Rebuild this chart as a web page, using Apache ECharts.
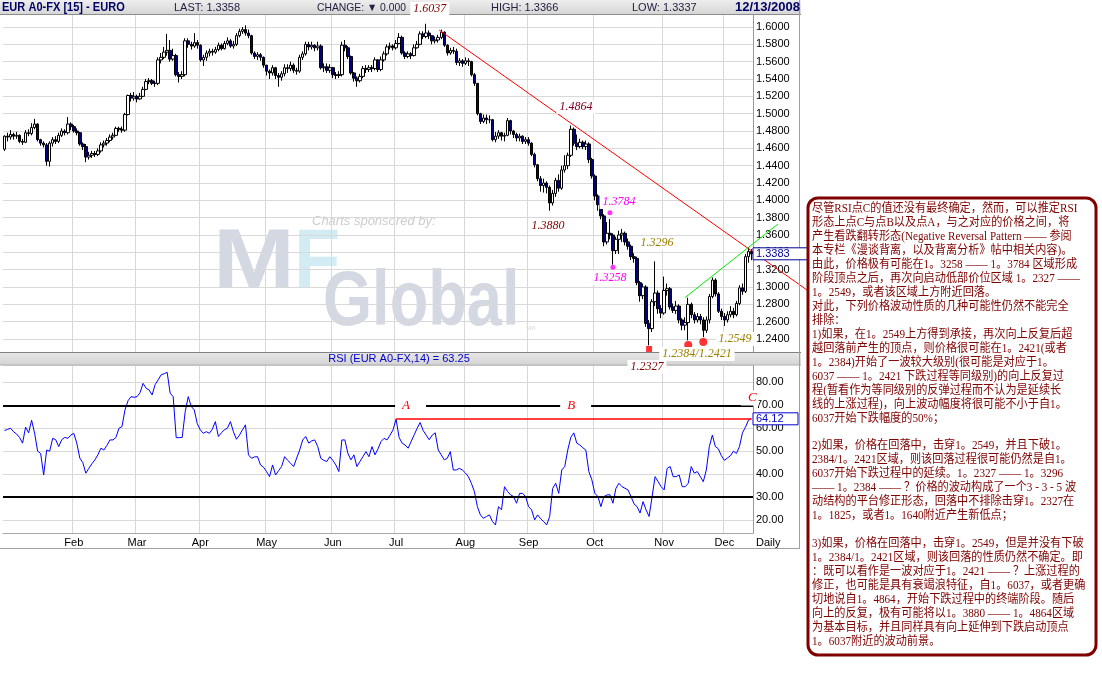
<!DOCTYPE html>
<html><head><meta charset="utf-8">
<script src="https://cdn.jsdelivr.net/npm/echarts@6.0.0/dist/echarts.min.js"></script>
<style>html,body{margin:0;padding:0;background:#fff}#c{width:1102px;height:685px}</style>
</head><body><div id="c"></div>
<script>
// ---------------- DATA ----------------
const monthNames = ['Jan','Feb','Mar','Apr','May','Jun','Jul','Aug','Sep','Oct','Nov','Dec'];
const priceTicks = {min:1.22, max:1.62, step:0.02};
const opens = [
1.459,1.474,1.473,1.476,1.474,1.475,1.468,1.467,1.478,1.477,
1.484,1.488,1.470,1.466,1.464,1.445,1.466,1.470,1.468,1.475,
1.480,1.478,1.488,1.485,1.480,1.478,1.465,1.462,1.450,1.452,
1.454,1.453,1.457,1.464,1.466,1.469,1.473,1.475,1.483,1.482,
1.481,1.499,1.521,1.518,1.520,1.517,1.520,1.528,1.537,1.538,
1.535,1.535,1.562,1.565,1.571,1.573,1.563,1.567,1.545,1.543,
1.545,1.584,1.580,1.578,1.582,1.579,1.562,1.565,1.570,1.572,
1.571,1.574,1.579,1.575,1.581,1.584,1.578,1.580,1.590,1.595,
1.597,1.593,1.590,1.570,1.566,1.568,1.565,1.556,1.549,1.547,
1.553,1.544,1.542,1.546,1.553,1.552,1.556,1.550,1.549,1.565,
1.569,1.580,1.577,1.579,1.576,1.578,1.553,1.554,1.550,1.553,
1.545,1.544,1.545,1.579,1.576,1.566,1.547,1.541,1.538,1.543,
1.552,1.551,1.553,1.552,1.562,1.551,1.562,1.569,1.577,1.578,
1.576,1.581,1.588,1.570,1.566,1.569,1.567,1.576,1.580,1.592,
1.589,1.593,1.590,1.584,1.585,1.588,1.594,1.579,1.570,1.573,
1.572,1.559,1.561,1.558,1.561,1.560,1.545,1.535,1.500,1.491,
1.495,1.493,1.493,1.470,1.474,1.478,1.474,1.475,1.492,1.480,
1.476,1.472,1.474,1.468,1.470,1.466,1.453,1.441,1.425,1.417,
1.420,1.415,1.397,1.408,1.423,1.414,1.435,1.440,1.452,1.482,
1.466,1.462,1.467,1.462,1.465,1.447,1.428,1.405,1.395,1.382,
1.352,1.362,1.360,1.342,1.355,1.360,1.362,1.352,1.347,1.335,
1.333,1.305,1.290,1.300,1.258,1.252,1.283,1.293,1.275,1.270,
1.296,1.298,1.277,1.273,1.278,1.262,1.256,1.259,1.280,1.268,
1.262,1.266,1.262,1.250,1.262,1.289,1.308,1.292,1.272,1.266,
1.262,1.268,1.272,1.268,1.281,1.299,1.295,1.335,1.341];
const closes = [
1.474,1.473,1.476,1.474,1.475,1.468,1.467,1.478,1.477,1.484,
1.488,1.470,1.466,1.464,1.445,1.466,1.470,1.468,1.475,1.480,
1.478,1.488,1.485,1.480,1.478,1.465,1.462,1.450,1.452,1.454,
1.453,1.457,1.464,1.466,1.469,1.473,1.475,1.483,1.482,1.481,
1.499,1.521,1.518,1.520,1.517,1.520,1.528,1.537,1.538,1.535,
1.535,1.562,1.565,1.571,1.573,1.563,1.567,1.545,1.543,1.545,
1.584,1.580,1.578,1.582,1.579,1.562,1.565,1.570,1.572,1.571,
1.574,1.579,1.575,1.581,1.584,1.578,1.580,1.590,1.595,1.597,
1.593,1.590,1.570,1.566,1.568,1.565,1.556,1.549,1.547,1.553,
1.544,1.542,1.546,1.553,1.552,1.556,1.550,1.549,1.565,1.569,
1.580,1.577,1.579,1.576,1.578,1.553,1.554,1.550,1.553,1.545,
1.544,1.545,1.579,1.576,1.566,1.547,1.541,1.538,1.543,1.552,
1.551,1.553,1.552,1.562,1.551,1.562,1.569,1.577,1.578,1.576,
1.581,1.588,1.570,1.566,1.569,1.567,1.576,1.580,1.592,1.589,
1.593,1.590,1.584,1.585,1.588,1.594,1.579,1.570,1.573,1.572,
1.559,1.561,1.558,1.561,1.560,1.545,1.535,1.500,1.491,1.495,
1.493,1.493,1.470,1.474,1.478,1.474,1.475,1.492,1.480,1.476,
1.472,1.474,1.468,1.470,1.466,1.453,1.441,1.425,1.417,1.420,
1.415,1.397,1.408,1.423,1.414,1.435,1.440,1.452,1.482,1.466,
1.462,1.467,1.462,1.465,1.447,1.428,1.405,1.395,1.382,1.352,
1.362,1.360,1.342,1.355,1.360,1.362,1.352,1.347,1.335,1.333,
1.305,1.290,1.300,1.258,1.252,1.283,1.293,1.275,1.270,1.296,
1.298,1.277,1.273,1.278,1.262,1.256,1.259,1.280,1.268,1.262,
1.266,1.262,1.250,1.262,1.289,1.308,1.292,1.272,1.266,1.262,
1.268,1.272,1.268,1.281,1.299,1.295,1.335,1.341,1.3383];
const highs = [
1.475,1.478,1.481,1.478,1.479,1.476,1.471,1.481,1.482,1.489,
1.494,1.489,1.471,1.468,1.466,1.468,1.473,1.474,1.478,1.483,
1.482,1.496,1.490,1.487,1.483,1.479,1.467,1.465,1.456,1.457,
1.457,1.460,1.467,1.469,1.472,1.476,1.478,1.485,1.485,1.485,
1.501,1.522,1.524,1.525,1.522,1.524,1.531,1.540,1.541,1.540,
1.538,1.565,1.570,1.577,1.592,1.585,1.575,1.569,1.548,1.549,
1.587,1.587,1.583,1.593,1.585,1.580,1.568,1.573,1.575,1.575,
1.577,1.582,1.581,1.584,1.588,1.586,1.584,1.593,1.598,1.600,
1.602,1.597,1.591,1.572,1.571,1.570,1.566,1.556,1.551,1.556,
1.554,1.547,1.549,1.557,1.557,1.560,1.558,1.553,1.568,1.572,
1.583,1.583,1.583,1.580,1.583,1.580,1.558,1.558,1.557,1.554,
1.548,1.549,1.583,1.585,1.578,1.567,1.548,1.543,1.546,1.555,
1.556,1.556,1.556,1.565,1.563,1.566,1.572,1.580,1.582,1.580,
1.585,1.593,1.590,1.572,1.572,1.571,1.580,1.584,1.595,1.595,
1.6037,1.596,1.590,1.589,1.591,1.597,1.595,1.580,1.576,1.577,
1.575,1.564,1.563,1.565,1.564,1.561,1.547,1.535,1.501,1.499,
1.499,1.498,1.494,1.479,1.481,1.479,1.478,1.495,1.493,1.481,
1.478,1.477,1.475,1.473,1.473,1.467,1.455,1.442,1.428,1.425,
1.422,1.417,1.412,1.426,1.430,1.440,1.452,1.455,1.4864,1.484,
1.476,1.471,1.469,1.469,1.467,1.449,1.430,1.407,1.398,1.384,
1.375,1.3784,1.362,1.358,1.365,1.367,1.364,1.356,1.349,1.339,
1.335,1.307,1.304,1.302,1.262,1.286,1.3296,1.296,1.279,1.312,
1.304,1.300,1.281,1.284,1.280,1.264,1.265,1.2877,1.282,1.271,
1.270,1.269,1.265,1.266,1.292,1.311,1.310,1.294,1.275,1.270,
1.272,1.278,1.276,1.284,1.302,1.304,1.338,1.346,1.3437];
const lows = [
1.457,1.468,1.470,1.470,1.471,1.466,1.464,1.466,1.474,1.475,
1.482,1.468,1.463,1.461,1.440,1.439,1.462,1.465,1.466,1.473,
1.475,1.476,1.481,1.478,1.475,1.463,1.458,1.444,1.447,1.449,
1.450,1.451,1.455,1.461,1.463,1.467,1.470,1.474,1.479,1.478,
1.479,1.498,1.514,1.515,1.513,1.516,1.519,1.527,1.534,1.533,
1.531,1.533,1.558,1.563,1.567,1.560,1.561,1.543,1.536,1.540,
1.543,1.576,1.574,1.576,1.575,1.560,1.555,1.561,1.566,1.567,
1.569,1.572,1.573,1.574,1.579,1.576,1.575,1.578,1.588,1.592,
1.590,1.587,1.568,1.563,1.562,1.561,1.553,1.544,1.540,1.544,
1.540,1.531,1.538,1.543,1.547,1.549,1.547,1.545,1.547,1.562,
1.567,1.573,1.574,1.572,1.573,1.551,1.548,1.547,1.547,1.541,
1.540,1.541,1.543,1.572,1.563,1.545,1.537,1.531,1.536,1.541,
1.547,1.548,1.548,1.550,1.548,1.549,1.560,1.567,1.574,1.573,
1.574,1.580,1.568,1.563,1.564,1.563,1.566,1.575,1.579,1.586,
1.587,1.586,1.580,1.581,1.582,1.586,1.577,1.567,1.568,1.569,
1.556,1.555,1.554,1.556,1.555,1.543,1.532,1.498,1.488,1.489,
1.488,1.489,1.468,1.467,1.471,1.469,1.468,1.474,1.476,1.472,
1.468,1.468,1.465,1.465,1.463,1.451,1.438,1.422,1.410,1.409,
1.408,1.388,1.394,1.404,1.410,1.412,1.432,1.436,1.450,1.463,
1.458,1.460,1.459,1.458,1.443,1.425,1.400,1.388,1.378,1.347,
1.349,1.355,1.3258,1.338,1.338,1.352,1.348,1.343,1.331,1.328,
1.302,1.283,1.286,1.254,1.2327,1.248,1.278,1.269,1.264,1.268,
1.290,1.274,1.270,1.269,1.258,1.250,1.250,1.2384,1.264,1.258,
1.259,1.257,1.2421,1.247,1.258,1.287,1.289,1.270,1.262,1.2549,
1.259,1.265,1.264,1.266,1.279,1.291,1.293,1.328,1.331];
const rsi = [
59,59.5,60,58.5,57.5,56,53.5,60.5,58,63.5,
57.8,50,49,39.6,50.5,50,55.6,55,52,55,
56,55.6,57,57.8,53.5,47,45,40.4,42.5,44.5,
46.2,48.4,51.3,50.5,52.5,54.9,54.9,56,60,60.7,
68,72,73.8,73.5,73.8,75.5,79.6,77.5,76.7,74.5,
79,81.1,83.3,83.8,84.4,75.3,73.8,55.9,55.9,56,
67.3,73.8,69.5,68,62,59.3,57.8,58.5,57.8,59.6,
62.9,56.4,58,59.3,60,62.9,58.5,55.2,57,59.3,
61.5,48.4,46.9,47.5,47.6,44,43,41.1,38.9,44,
39.6,41.5,43.3,47.6,46,44.7,43.3,47,50.5,54.9,
56.4,53.5,54.5,54.9,52,46.9,46,45.5,47.6,46,
44,41.1,54.9,54.9,49.1,46.2,48.4,43.3,45.5,47.6,
49.8,47.6,52,48.4,51,54.2,55.6,54.9,57,59.3,
64,56,53.5,52.7,51.3,54.2,57.1,60,62.5,59,
57,55,57,58,50.5,48.4,46.2,46.9,49.8,41.8,
41.8,42.5,41.8,40.5,38.9,36,32.4,25.8,22.2,20.7,
21.5,22.2,19.3,17.8,25.8,24.4,34.5,32.4,31,30.2,
27.3,31.6,31.6,30.2,25.8,24.4,20,22.2,20.5,19.3,
17.8,21.5,33.8,36,31.6,41.8,43.3,50.5,56,58,
53.5,52.7,51.5,50.5,41.1,37.5,31.6,30.2,25.8,30.2,
30.9,31,27.3,33.8,36,34.5,33.8,33.1,30.2,27,
25.8,23,28,24.4,21.5,30.2,38.9,36.7,34.5,33.1,
42.5,43.3,38.9,38.9,39.6,34.5,34.5,36,43.3,40.4,
41.1,38.9,36.7,41.8,52,57,52,51,48,46,
47,48,50,49,52,58,60.5,63.5,64.12];
const rsiLevels = [30, 70];
const rsiRefLine = {from:130, to:248, value:64.12};
const magentaDots = [[201, 1.3858], [202, 1.3227]];
const redSquares = [[214, 1.2285]];
const redCircles = [[227, 1.2331], [232, 1.2366]];
const priceLabels = [
  {t:'1.6037', i:141.2, v:1.6208, c:'#800000'},
  {t:'1.4864', i:189.7, v:1.5077, c:'#800020'},
  {t:'1.3880', i:180.4, v:1.3704, c:'#800000'},
  {t:'1.3784', i:204.0, v:1.3981, c:'#ff00ff'},
  {t:'1.3258', i:201.0, v:1.3104, c:'#ff00ff'},
  {t:'1.3296', i:216.6, v:1.3508, c:'#9c8000'},
  {t:'1.2327', i:213.3, v:1.2077, c:'#800000'},
  {t:'1.2384/1.2421', i:229.9, v:1.2227, c:'#9c8000'},
  {t:'1.2549', i:242.5, v:1.2400, c:'#9c8000'}
];
const rsiLabels = [{t:'A', i:132.0, v:70, padR:16}, {t:'B', i:186.8, v:70, padR:16}, {t:'C', i:246.8, v:73.2, padR:2}];
const redTrend = [[144.3, 1.5965], [266.4, 1.2966]];
const greenTrend = [[225.9, 1.2877], [256.8, 1.3727]];
const lastPrice = 1.3383, lastRsi = 64.12;
const header = {title:'EUR A0-FX [15] - EURO', last:'LAST: 1.3358', change:'CHANGE: \u25BC 0.000', high:'HIGH: 1.3366', low:'LOW: 1.3337', date:'12/13/2008'};
const rsiTitle = 'RSI (EUR A0-FX,14) = 63.25';
const noteLines = [
'尽管RSI点C的值还没有最终确定，然而，可以推定RSI',
'形态上点C与点B以及点A，与之对应的价格之间，将',
'产生看跌翻转形态(Negative Reversal Pattern —— 参阅',
'本专栏《漫谈背离，以及背离分析》帖中相关内容)。',
'由此，价格极有可能在1。3258 —— 1。3784 区域形成',
'阶段顶点之后，再次向启动低部价位区域 1。2327 ——',
'1。2549，或者该区域上方附近回落。',
'对此，下列价格波动性质的几种可能性仍然不能完全',
'排除：',
'1)如果，在1。2549上方得到承接，再次向上反复后超',
'越回落前产生的顶点，则价格很可能在1。2421(或者',
'1。2384)开始了一波较大级别(很可能是对应于1。',
'6037 —— 1。2421 下跌过程等同级别)的向上反复过',
'程(暂看作为等同级别的反弹过程而不认为是延续长',
'线的上涨过程)，向上波动幅度将很可能不小于自1。',
'6037开始下跌幅度的50%；',
'',
'2)如果，价格在回落中，击穿1。2549，并且下破1。',
'2384/1。2421区域，则该回落过程很可能仍然是自1。',
'6037开始下跌过程中的延续。1。2327 —— 1。3296',
'—— 1。2384 —— ？价格的波动构成了一个3 - 3 - 5 波',
'动结构的平台修正形态，回落中不排除击穿1。2327在',
'1。1825，或者1。1640附近产生新低点；',
'',
'3)如果，价格在回落中，击穿1。2549，但是并没有下破',
'1。2384/1。2421区域，则该回落的性质仍然不确定。即',
'：既可以看作是一波对应于1。2421 —— ？上涨过程的',
'修正，也可能是具有衰竭浪特征，自1。6037，或者更确',
'切地说自1。4864，开始下跌过程中的终端阶段。随后',
'向上的反复，极有可能将以1。3880 —— 1。4864区域',
'为基本目标，并且同样具有向上延伸到下跌启动顶点',
'1。6037附近的波动前景。'
];

// ---------------- categories (trading days) ----------------
const dates = [], monthLabel = [];
(function(){
  let t = Date.UTC(2008,0,1); const end = Date.UTC(2008,11,12); let prev = -1;
  while (t <= end) {
    const d = new Date(t), wd = d.getUTCDay(), m = d.getUTCMonth();
    if (wd !== 0 && wd !== 6) {
      dates.push((m+1) + '/' + d.getUTCDate() + '/2008');
      monthLabel.push(prev !== -1 && m !== prev ? monthNames[m] : '');
      prev = m;
    }
    t += 86400000;
  }
})();

const SANS = '"Liberation Sans", Arial, sans-serif';
const chart = echarts.init(document.getElementById('c'));
const gridColor = '#d9d9d9';
const isMonth = (i) => !!monthLabel[i];

chart.setOption({
  animation: false,
  backgroundColor: '#fff',
  grid: [
    {left: 3, right: 349, top: 9.667, height: 346.667},
    {left: 3, right: 349, top: 365, height: 168}
  ],
  xAxis: [
    {type:'category', gridIndex:0, data:dates, boundaryGap:true,
     axisLine:{show:false}, axisTick:{show:false}, axisLabel:{show:false},
     splitLine:{show:true, interval:isMonth, lineStyle:{color:gridColor}}},
    {type:'category', gridIndex:1, data:dates, boundaryGap:true,
     axisLine:{show:true, lineStyle:{color:'#a8a8a8'}}, axisTick:{show:false},
     axisLabel:{interval:isMonth, formatter:(v,i)=>monthLabel[i], color:'#000', fontSize:11, fontFamily:SANS, margin:4},
     splitLine:{show:true, interval:isMonth, lineStyle:{color:gridColor}}}
  ],
  yAxis: [
    {type:'value', gridIndex:0, position:'right', min:priceTicks.min, max:priceTicks.max, interval:priceTicks.step,
     axisLine:{show:true, lineStyle:{color:'#999'}}, axisTick:{show:false},
     axisLabel:{formatter:(v)=> (v < 1.235 || v > 1.605) ? '' : v.toFixed(4), color:'#000', fontSize:11, fontFamily:SANS, margin:3},
     splitLine:{show:true, lineStyle:{color:gridColor}}},
    {type:'value', gridIndex:1, position:'right', min:14.3, max:87.6, splitNumber:7,
     axisLine:{show:true, lineStyle:{color:'#999'}}, axisTick:{show:false},
     axisLabel:{formatter:(v)=> Math.abs(v/10 - Math.round(v/10)) < 1e-6 ? v.toFixed(2) : '', color:'#000', fontSize:11, fontFamily:SANS, margin:3, showMinLabel:false, showMaxLabel:false},
     splitLine:{show:true, lineStyle:{color:gridColor}}}
  ],
  series: [
    {type:'candlestick', xAxisIndex:0, yAxisIndex:0, barWidth:3,
     data: opens.map((o,i)=>[o, closes[i], lows[i], highs[i]]),
     itemStyle:{color:'#ffffff', color0:'#000080', borderColor:'#000000', borderColor0:'#000000', borderWidth:1}},
    {type:'line', xAxisIndex:1, yAxisIndex:1, data:rsi, symbol:'none', z:4,
     lineStyle:{color:'#0000ff', width:1},
     markLine:{silent:true, symbol:['none','none'], label:{show:false},
       data:[
         ...rsiLevels.map(v=>({yAxis:v, lineStyle:{color:'#000', width:2, type:'solid'}})),
         [{coord:[dates[rsiRefLine.from], rsiRefLine.value], lineStyle:{color:'#ff0000', width:1.5, type:'solid'}},
          {coord:[dates[rsiRefLine.to], rsiRefLine.value]}]
       ]}},
    {type:'scatter', xAxisIndex:0, yAxisIndex:0, symbol:'circle', symbolSize:5, clip:false, z:6,
     itemStyle:{color:'#ff00ff'}, data: magentaDots.map(p=>[dates[p[0]], p[1]])},
    {type:'scatter', xAxisIndex:0, yAxisIndex:0, symbol:'rect', symbolSize:6, clip:false, z:6,
     itemStyle:{color:'#ff0000'}, data: redSquares.map(p=>[dates[p[0]], p[1]])},
    {type:'scatter', xAxisIndex:0, yAxisIndex:0, symbol:'circle', symbolSize:8, clip:false, z:6,
     itemStyle:{color:'#ff0000'}, data: redCircles.map(p=>[dates[p[0]], p[1]])}
  ]
});

// ---------------- overlays anchored to data ----------------
const X0 = chart.convertToPixel({xAxisIndex:0}, dates[0]);
const X1 = chart.convertToPixel({xAxisIndex:0}, dates[1]);
const STEP = X1 - X0;
const px = (i, v, g) => [X0 + i*STEP, chart.convertToPixel({yAxisIndex:g}, v)];
const gRight = chart.convertToPixel({xAxisIndex:0}, dates[dates.length-1]) + STEP/2;

const G = [];
// watermark
G.push({type:'text', z:-1, x:312, y:221, style:{text:'Charts sponsored by:', font:'italic 13px '+SANS, fill:'#cdcdcd', verticalAlign:'middle'}});
G.push({type:'text', z:-1, x:213, y:264, scaleX:1.17, originX:0, style:{text:'M', font:'bold 84px '+SANS, fill:'#d4d8e2', verticalAlign:'middle'}});
G.push({type:'text', z:-1, x:294, y:264, scaleX:0.9, originX:0, style:{text:'F', font:'bold 84px '+SANS, fill:'#d3ebf2', verticalAlign:'middle'}});
G.push({type:'text', z:-1, x:323, y:304, scaleX:0.82, originX:0, style:{text:'Global', font:'bold 77px '+SANS, fill:'#d4d8e2', verticalAlign:'middle'}});
G.push({type:'text', z:-1, x:526, y:328, style:{text:'SM', font:'6px '+SANS, fill:'#d4d8e2', verticalAlign:'middle'}});

// header bar
G.push({type:'rect', z:10, shape:{x:0, y:0, width:801, height:14},
  style:{fill:new echarts.graphic.LinearGradient(0,0,0,1,[{offset:0,color:'#eeeeee'},{offset:1,color:'#d6d6d6'}])}});
G.push({type:'line', z:10, shape:{x1:0, y1:14.5, x2:801, y2:14.5}, style:{stroke:'#8c8c8c', lineWidth:1}});
G.push({type:'text', z:11, x:2, y:7.5, scaleX:0.85, originX:0, style:{text:header.title, font:'bold 13px '+SANS, fill:'#000066', verticalAlign:'middle'}});
G.push({type:'text', z:11, x:174, y:7.5, style:{text:header.last, font:'11px '+SANS, fill:'#222244', verticalAlign:'middle'}});
G.push({type:'text', z:11, x:317, y:7.5, scaleX:0.94, originX:0, style:{text:header.change, font:'11px '+SANS, fill:'#222244', verticalAlign:'middle'}});
G.push({type:'text', z:11, x:491, y:7.5, style:{text:header.high, font:'11px '+SANS, fill:'#222244', verticalAlign:'middle'}});
G.push({type:'text', z:11, x:632, y:7.5, style:{text:header.low, font:'11px '+SANS, fill:'#222244', verticalAlign:'middle'}});
G.push({type:'text', z:11, x:800, y:7.5, style:{text:header.date, font:'bold 13px '+SANS, fill:'#000066', align:'right', verticalAlign:'middle'}});

// RSI header bar
G.push({type:'rect', z:10, shape:{x:0, y:352, width:801, height:13},
  style:{fill:new echarts.graphic.LinearGradient(0,0,0,1,[{offset:0,color:'#e8e8e8'},{offset:1,color:'#d4d4d4'}])}});
G.push({type:'line', z:10, shape:{x1:0, y1:352.5, x2:801, y2:352.5}, style:{stroke:'#808080', lineWidth:1}});
G.push({type:'line', z:10, shape:{x1:0, y1:365, x2:801, y2:365}, style:{stroke:'#b0b0b0', lineWidth:1}});
G.push({type:'text', z:11, x:399, y:358.5, style:{text:rsiTitle, font:'11px '+SANS, fill:'#0000cc', align:'center', verticalAlign:'middle'}});

// frame
G.push({type:'line', z:10, shape:{x1:799.5, y1:0, x2:799.5, y2:548.5}, style:{stroke:'#a0a0a0', lineWidth:1}});
G.push({type:'line', z:10, shape:{x1:0, y1:548.5, x2:800, y2:548.5}, style:{stroke:'#a0a0a0', lineWidth:1}});
G.push({type:'text', z:11, x:gRight+3, y:543, style:{text:'Daily', font:'11px '+SANS, fill:'#000', verticalAlign:'middle'}});

// trend lines
const r0 = px(redTrend[0][0], redTrend[0][1], 0), r1 = px(redTrend[1][0], redTrend[1][1], 0);
G.push({type:'line', z:5, shape:{x1:r0[0], y1:r0[1], x2:r1[0], y2:r1[1]}, style:{stroke:'#ff0000', lineWidth:1}});
const g0 = px(greenTrend[0][0], greenTrend[0][1], 0), g1 = px(greenTrend[1][0], greenTrend[1][1], 0);
G.push({type:'line', z:5, shape:{x1:g0[0], y1:g0[1], x2:g1[0], y2:g1[1]}, style:{stroke:'#00ee00', lineWidth:1}});

// annotation labels
priceLabels.forEach(l => {
  const p = px(l.i, l.v, 0);
  G.push({type:'text', z:20, x:p[0], y:p[1], style:{text:l.t, font:'italic 12px "Liberation Serif", serif', fill:l.c,
    align:'center', verticalAlign:'middle', backgroundColor:'#ffffff', padding:[1,3,1,3]}});
});
rsiLabels.forEach(l => {
  const p = px(l.i, l.v, 1);
  G.push({type:'text', z:20, x:p[0]-7, y:p[1], style:{text:l.t, font:'italic 13px "Liberation Serif", serif', fill:'#ff0000',
    align:'left', verticalAlign:'middle', backgroundColor:'#ffffff', padding:[1,l.padR,1,7]}});
});

// current value boxes on axes
const axX = gRight;
const lp = px(0, lastPrice, 0)[1];
G.push({type:'rect', z:15, shape:{x:axX, y:lp-6, width:55, height:12}, style:{fill:'#fff', stroke:'#000099', lineWidth:1}});
G.push({type:'text', z:16, x:axX+3, y:lp, style:{text:lastPrice.toFixed(4), font:'11px '+SANS, fill:'#000099', verticalAlign:'middle'}});
const lr = px(0, lastRsi, 1)[1];
G.push({type:'rect', z:15, shape:{x:axX, y:lr-6, width:45, height:12}, style:{fill:'#fff', stroke:'#0000cc', lineWidth:1}});
G.push({type:'text', z:16, x:axX+3, y:lr, style:{text:lastRsi.toFixed(2), font:'11px '+SANS, fill:'#0000cc', verticalAlign:'middle'}});

// comment box
G.push({type:'rect', z:15, shape:{x:808, y:198, width:288, height:457, r:10}, style:{fill:'#fff', stroke:'#800000', lineWidth:3}});
G.push({type:'text', z:16, x:812, y:202, scaleX:0.93, originX:0, style:{text:noteLines.join('\n'), font:'12px "Liberation Serif", "Noto Sans CJK SC", serif',
  fill:'#800000', lineHeight:13.96, verticalAlign:'top'}});

chart.setOption({graphic: G});
</script>
</body></html>
